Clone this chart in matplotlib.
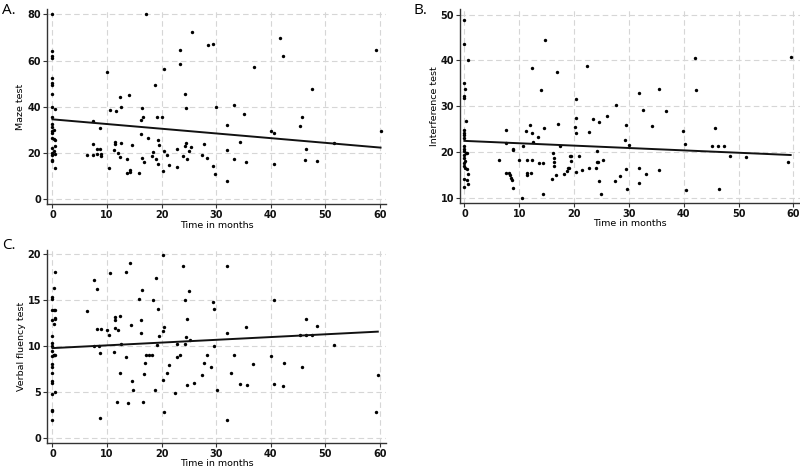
import matplotlib
matplotlib.use("Agg")
import matplotlib.pyplot as plt
import numpy as np

# ---------------- Panel A: Maze test ----------------
maze_time = [0, 0, 0, 0, 0, 0, 0, 0, 0, 0.4, 0, 0, 0, 0.2, 0, 0, 0, 0.3, 0.5, 0.5, 0, 0.2, 0, 0.5, 0, 0, 0, 0.4,
             6.4, 7.5, 7.5, 7.5, 8.2, 8.2, 8.7, 8.7, 8.9, 8.9, 10.0, 10.4, 10.5, 11.2, 11.4, 11.4, 11.7, 12.0,
             12.3, 12.3, 12.5, 12.6, 13.6, 13.6, 14.0, 14.2, 14.2, 14.6, 15.8, 16.2, 16.3, 16.4, 16.5, 16.4,
             16.8, 17.1, 17.5, 18.3, 18.5, 18.7, 18.9, 19.2, 19.4, 19.5, 19.4, 20.0, 20.3, 20.4, 20.5, 20.9,
             21.4, 22.8, 22.9, 23.4, 23.4, 23.9, 24.2, 24.2, 24.4, 24.4, 24.7, 25.0, 25.3, 25.6, 27.4, 27.7,
             28.4, 28.5, 29.4, 29.5, 29.7, 29.9, 31.9, 31.9, 32.0, 33.2, 33.3, 34.4, 35.0, 35.5, 36.9, 40.0,
             40.6, 40.6, 41.6, 42.2, 45.3, 45.7, 46.5, 46.3, 47.5, 48.5, 51.6, 59.3, 60.1]
maze_score = [80, 64, 62, 61, 52.5, 50.5, 49.5, 45.5, 40, 39, 35.5, 32.5, 31.5, 30, 29.5, 28.5, 26.5, 26, 25.5, 23,
              22, 21, 20, 19.5, 19, 17, 16.5, 13.5,
              19.1, 23.8, 33.9, 19.1, 21.7, 19.8, 21.7, 31.0, 18.9, 19.8, 55.0, 13.6, 38.8, 21.4, 24.0, 25.0, 38.3, 20.2,
              44.2, 18.2, 40.0, 24.5, 17.3, 11.6, 45.2, 12.7, 12.0, 23.5, 11.4, 34.5, 28.3, 39.6, 35.8, 17.9,
              16.0, 80.0, 26.6, 18.6, 20.6, 49.4, 17.3, 35.4, 25.8, 23.5, 15.2, 35.8, 12.3, 21.1, 56.3, 19.2,
              15.0, 21.9, 14.0, 64.4, 58.5, 18.9, 23.0, 45.5, 39.7, 24.5, 17.6, 21.1, 22.8, 72.3, 19.1, 23.8,
              17.9, 66.6, 14.4, 67.0, 11.0, 39.9, 21.5, 32.1, 7.8, 41.0, 17.5, 24.7, 37.0, 16.3, 57.2, 29.5,
              15.2, 28.6, 69.9, 62.0, 31.6, 35.8, 21.7, 17.2, 47.7, 16.8, 24.4, 64.7, 29.6]
maze_fit = [34.6, -0.2033]          # intercept, slope

# ---------------- Panel B: Interference test ----------------
inter_time = [0, 0, 0.6, 0, 0.2, 0, 0, 0.3, 0, 0, 0, 0, 0, 0, 0, 0.25, 0, 0.45, 0, 0.2, 0, 0, 0.2, 0.4, 0.6, 0, 0.5, 0.6, 0,
              6.4, 7.6, 7.6, 7.6, 8.2, 8.3, 8.5, 8.7, 8.8, 8.8, 8.8, 10.0, 10.5, 10.6, 11.2, 11.4, 11.4, 11.4,
              11.9, 12.1, 12.3, 12.3, 12.4, 12.6, 13.5, 13.6, 13.9, 14.3, 14.3, 14.6, 14.7, 15.9, 16.2, 16.4,
              16.4, 16.4, 16.8, 16.7, 17.1, 17.5, 18.2, 18.7, 18.9, 19.1, 19.2, 19.5, 19.5, 20.3, 20.2, 20.3,
              20.3, 20.3, 20.9, 21.4, 22.4, 22.8, 22.8, 23.4, 24.0, 24.2, 24.1, 24.4, 24.6, 24.6, 24.9, 25.3,
              26.0, 27.4, 27.6, 28.3, 29.2, 29.4, 29.4, 29.6, 30.1, 31.8, 31.9, 31.8, 32.6, 33.2, 34.3, 35.5,
              35.4, 36.7, 39.8, 40.3, 40.5, 42.0, 42.3, 45.2, 45.7, 46.3, 46.4, 47.4, 48.5, 51.4, 59.0, 59.5]
inter_score = [48.9, 43.6, 40.0, 35.1, 33.8, 32.2, 31.9, 26.8, 24.8, 24.3, 23.7, 23.1, 21.3, 20.8, 20.3, 19.8, 19.5,
               19.8, 18.7, 18.2, 17.6, 17.1, 16.6, 16.4, 15.3, 14.2, 14.0, 13.2, 12.4,
               18.4, 24.9, 22.1, 15.6, 15.6, 15.1, 14.5, 14.0, 12.3, 20.8, 20.5, 18.4, 10.0, 21.4, 24.7, 18.3,
               15.6, 15.0, 25.9, 15.6, 18.4, 24.2, 38.4, 22.3, 23.3, 17.7, 33.5, 17.7, 11.0, 25.4, 44.5, 14.2,
               19.8, 18.7, 17.9, 17.0, 37.4, 15.1, 26.2, 21.3, 15.3, 16.0, 16.7, 16.6, 19.2, 19.1, 18.2, 31.7,
               25.6, 27.5, 24.2, 15.8, 19.1, 16.1, 38.9, 24.4, 16.5, 27.2, 16.5, 20.3, 18.0, 17.9, 26.6, 13.8,
               11.0, 18.4, 28.0, 13.8, 30.4, 14.9, 22.7, 26.0, 16.4, 12.0, 21.6, 16.7, 33.0, 13.4, 29.2, 15.2,
               25.8, 33.7, 16.1, 29.1, 24.7, 21.8, 11.9, 40.5, 33.5, 21.3, 25.4, 21.3, 12.1, 21.3, 19.2, 19.0,
               17.9, 40.7]
inter_fit = [22.5, -0.0517]

# ---------------- Panel C: Verbal fluency test ----------------
verbal_time = [0, 0, 0, 0.55, 0, 0, 0, 0, 0, 0, 0, 0.2, 0.35, 0.5, 0, 0, 0, 0, 0, 0.2, 0.5, 0.4, 0, 0.2, 0.5, 0, 0,
               0.3, 0.55,
               6.4, 7.6, 7.6, 8.2, 8.2, 8.5, 8.9, 8.7, 8.7, 10.0, 10.4, 10.5, 11.2, 11.4, 11.4, 11.4, 11.8, 12.0,
               12.3, 12.3, 12.5, 13.5, 13.5, 13.9, 14.2, 14.3, 14.5, 14.8, 15.8, 16.3, 16.3, 16.4, 16.5, 16.7,
               16.9, 17.2, 17.6, 18.3, 18.5, 18.7, 18.9, 19.2, 19.4, 19.5, 20.2, 20.2, 20.4, 20.3, 20.5, 20.9,
               21.4, 22.5, 22.8, 22.8, 23.4, 23.9, 24.2, 24.2, 24.4, 24.6, 24.7, 25.0, 25.2, 26.0, 27.4, 27.7,
               28.4, 29.1, 29.4, 29.6, 29.6, 30.2, 31.9, 32.0, 32.0, 32.7, 33.3, 34.4, 35.6, 35.5, 36.8, 40.0,
               40.5, 40.6, 42.2, 42.5, 45.4, 45.7, 46.5, 46.5, 47.5, 48.5, 51.6, 59.3, 59.6]
verbal_score = [1.95, 3.1, 3.0, 5.0, 4.8, 6.0, 6.2, 7.1, 7.7, 8.1, 8.9, 9.0, 9.0, 9.1, 9.5, 10.0, 10.4, 11.1, 12.8,
                12.4, 13.0, 13.1, 13.9, 13.9, 13.9, 15.3, 15.1, 16.3, 18.1,
                13.8, 17.2, 10.0, 16.2, 11.9, 10.0, 11.9, 9.3, 2.2, 11.8, 11.2, 17.9, 9.4, 12.8, 13.2, 12.0, 4.0,
                11.8, 13.3, 7.1, 10.2, 8.8, 18.1, 3.8, 19.0, 12.3, 6.2, 5.2, 15.1, 12.9, 11.4, 16.1, 4.0, 7.0,
                8.2, 9.1, 9.1, 9.1, 15.0, 5.3, 17.4, 10.1, 14.0, 11.1, 19.9, 6.3, 12.1, 11.7, 2.9, 7.1,
                8.0, 4.9, 10.3, 8.8, 9.1, 18.7, 15.0, 10.2, 11.0, 13.0, 5.8, 16.0, 10.7, 6.0, 6.9, 8.2,
                9.0, 7.8, 14.8, 10.0, 14.0, 5.3, 11.4, 18.7, 1.95, 7.1, 9.1, 5.9, 5.8, 12.1, 8.1, 8.9,
                5.9, 15.0, 5.7, 8.2, 11.2, 7.7, 13.0, 11.2, 11.2, 12.2, 10.1, 2.9, 6.9]
verbal_fit = [9.8, 0.03]

x_label = "Time in months"
x_ticks = [0, 10, 20, 30, 40, 50, 60]

W, H = 800, 469
fig = plt.figure(figsize=(W / 100, H / 100), dpi=100)
fig.patch.set_facecolor("white")


def make_axes(left, top, right, bottom):
    return fig.add_axes([left / W, 1 - bottom / H, (right - left) / W, (bottom - top) / H])


label_font = ["Liberation Sans Narrow", "DejaVu Sans"]


def panel(ax, t, s, fit, ylabel, yticks, ylim, xlim, letter, letter_xy, labelpad_x):
    ax.set_xlim(*xlim)
    ax.set_ylim(*ylim)
    ax.set_xticks(x_ticks)
    ax.set_yticks(yticks)
    ax.grid(True, color="#d6d6d6", linestyle=(0, (5, 3)), linewidth=0.8)
    ax.set_axisbelow(True)
    for sp in ["top", "right"]:
        ax.spines[sp].set_visible(False)
    for sp in ["left", "bottom"]:
        ax.spines[sp].set_color("#333333")
        ax.spines[sp].set_linewidth(1.0)
    ax.tick_params(axis="both", direction="out", length=3, width=0.8, color="#333333",
                   labelsize=7, pad=1.2)
    for lab in ax.get_xticklabels() + ax.get_yticklabels():
        lab.set_fontweight("bold")
        lab.set_color("#111111")
    ax.scatter(t, s, s=6, color="black", linewidths=0, zorder=3)
    xs = np.array([min(t), max(t)])
    ax.plot(xs, fit[0] + fit[1] * xs, color="#111111", linewidth=1.4, zorder=4)
    ax.set_xlabel(x_label, fontsize=6.8, family=label_font, labelpad=labelpad_x)
    ax.set_ylabel(ylabel, fontsize=6.8, family=label_font, labelpad=1.5)
    fig.text(letter_xy[0] / W, 1 - letter_xy[1] / H, letter, fontsize=11,
             ha="left", va="top", family=["Open Sans", "DejaVu Sans"])


axA = make_axes(47, 9, 386, 204)
panel(axA, maze_time, maze_score, maze_fit, "Maze test", [0, 20, 40, 60, 80],
      (-2.0, 82.3), (-1.0, 61.1), "A.", (2, 3), 0.5)

axB = make_axes(460, 9, 800, 203)
panel(axB, inter_time, inter_score, inter_fit, "Interference test", [10, 20, 30, 40, 50],
      (8.98, 51.2), (-0.8, 61.2), "B.", (414, 3), 0.0)

axC = make_axes(47, 250, 386, 443)
panel(axC, verbal_time, verbal_score, verbal_fit, "Verbal fluency test", [0, 5, 10, 15, 20],
      (-0.5, 20.45), (-1.0, 61.1), "C.", (2, 238), 0.0)

fig.savefig("out.png", dpi=100, facecolor="white")
